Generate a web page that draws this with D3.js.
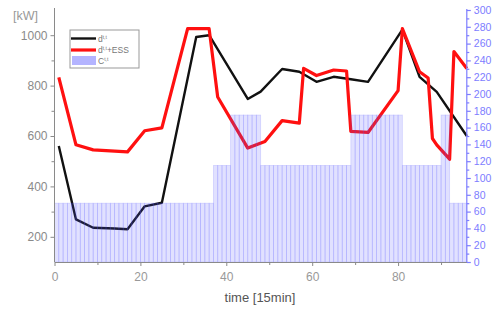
<!DOCTYPE html>
<html>
<head>
<meta charset="utf-8">
<script src="https://cdn.jsdelivr.net/npm/d3@7"></script>
<style>
  body { margin: 0; background: #fff; }
  svg { font-family: "Liberation Sans", Arial, sans-serif; }
</style>
</head>
<body>
<div id="chart"></div>
<script>
// demand without storage (kW)
var loadTime = [1,5,9,14,17,21,25,33,36,45,48,53,57,61,65,69,73,81,85,89,96];
var loadKW   = [560,269,236,233,230,321,335,993,1000,747,776,866,855,815,835,825,815,1022,835,775,600];

// demand with ESS (kW)
var essTime = [1,5,9,17,21,25,31,36,38,45,49,53,57,58,61,65,68,69,73,80,81,85,87,88,89,92,93,96];
var essKW   = [833,565,545,537,621,632,1026,1026,755,552,578,661,651,868,840,862,858,618,614,780,1026,855,830,590,565,508,935,868];

// C per 15 min slot (right axis), slots 0..95
var capacity = [
  70,70,70,70,70,70,70,70,70,70, 70,70,70,70,70,70,70,70,70,70,
  70,70,70,70,70,70,70,70,70,70, 70,70,70,70,70,70,70,115,115,115,
  115,175,175,175,175,175,175,175,115,115, 115,115,115,115,115,115,115,115,115,115,
  115,115,115,115,115,115,115,115,115,175, 175,175,175,175,175,175,175,175,175,175,
  175,115,115,115,115,115,115,115,115,115, 175,175,70,70,70,70
];

var leftTicks = [200,400,600,800,1000];
var bottomTicks = [0,20,40,60,80];

var W = 499, H = 312;
var svg = d3.select("#chart").append("svg").attr("width", W).attr("height", H);

var x = d3.scaleLinear().domain([0, 96]).range([54.5, 466.8]);
var yL = d3.scaleLinear().domain([100, 1100]).range([262, 10]);
var yR = d3.scaleLinear().domain([0, 300]).range([262, 10]);

var grey = "#8a8a8a", blue = "#7d7dff";

// lines
var line = d3.line().x(function(d){ return x(d[0]); }).y(function(d){ return yL(d[1]); });
svg.append("path")
  .datum(loadTime.map(function(t, i){ return [t, loadKW[i]]; }))
  .attr("d", line).attr("fill", "none").attr("stroke", "#111")
  .attr("stroke-width", 2.4).attr("stroke-linejoin", "round");
svg.append("path")
  .datum(essTime.map(function(t, i){ return [t, essKW[i]]; }))
  .attr("d", line).attr("fill", "none").attr("stroke", "#ff1010")
  .attr("stroke-width", 3.2).attr("stroke-linejoin", "round");

// bars on top, semi transparent
svg.append("g").selectAll("rect")
  .data(capacity).enter()
  .append("rect")
  .attr("x", function(d, i){ return x(i); })
  .attr("width", x(1) - x(0))
  .attr("y", function(d){ return yR(d); })
  .attr("height", function(d){ return yR(0) - yR(d); })
  .attr("fill", "#5a5aff").attr("fill-opacity", 0.18)
  .attr("stroke", "#5a5aff").attr("stroke-opacity", 0.2).attr("stroke-width", 0.8);

// left axis
var gl = svg.append("g").attr("transform", "translate(" + x(0) + ",0)");
gl.call(d3.axisLeft(yL).tickValues(leftTicks).tickSize(4).tickSizeOuter(0).tickFormat(d3.format("d")));
gl.append("g").call(d3.axisLeft(yL).tickValues([300,500,700,900]).tickSize(3).tickFormat(""))
  .select(".domain").remove();
gl.selectAll("path, line").attr("stroke", grey);
gl.selectAll("text").attr("fill", grey).attr("font-size", 12).attr("x", -7);
gl.select(".domain").attr("d", "M0," + yL(100) + "V" + 8);

// bottom axis
var gb = svg.append("g").attr("transform", "translate(0," + yL(100) + ")");
gb.call(d3.axisBottom(x).tickValues(bottomTicks).tickSize(4).tickSizeOuter(0));
gb.append("g").call(d3.axisBottom(x).tickValues([10,30,50,70,90]).tickSize(3).tickFormat(""))
  .select(".domain").remove();
gb.selectAll("path, line").attr("stroke", grey);
gb.selectAll("text").attr("fill", "#999").attr("font-size", 12).attr("y", 10);

// right axis
var gr = svg.append("g").attr("transform", "translate(" + x(96) + ",0)");
gr.call(d3.axisRight(yR).tickValues(d3.range(0, 301, 20)).tickSize(4).tickSizeOuter(0));
gr.append("g").call(d3.axisRight(yR).tickValues(d3.range(10, 300, 20)).tickSize(2.5).tickFormat(""))
  .select(".domain").remove();
gr.selectAll("path, line").attr("stroke", blue).attr("stroke-width", 1.2);
gr.selectAll("text").attr("fill", blue).attr("font-size", 10.5).attr("x", 7);
gr.select(".domain").attr("d", "M0," + yR(0) + "V" + 9);

// axis titles
svg.append("text").attr("x", 13).attr("y", 20).attr("fill", "#999")
  .attr("font-size", 12.5).text("[kW]");
svg.append("text").attr("x", 260).attr("y", 302).attr("text-anchor", "middle")
  .attr("fill", "#555").attr("font-size", 13).text("time [15min]");

// legend
var lg = svg.append("g").attr("transform", "translate(70,30)");
lg.append("rect").attr("width", 69).attr("height", 38)
  .attr("fill", "#fff").attr("stroke", "#999").attr("stroke-width", 1);
lg.append("line").attr("x1", 1).attr("x2", 26).attr("y1", 8.5).attr("y2", 8.5)
  .attr("stroke", "#111").attr("stroke-width", 2.4);
lg.append("line").attr("x1", 1).attr("x2", 26).attr("y1", 20).attr("y2", 20)
  .attr("stroke", "#ff1010").attr("stroke-width", 3.2);
lg.append("rect").attr("x", 2).attr("y", 26).attr("width", 24).attr("height", 9)
  .attr("fill", "#b4b4ff");
var rows = [["d", "t,t", ""], ["d", "t,t", "+ESS"], ["C", "t,t", ""]];
rows.forEach(function(r, i){
  var t = lg.append("text").attr("x", 28).attr("y", 11.5 + i * 11)
    .attr("fill", "#777").attr("font-size", 8.5);
  t.append("tspan").text(r[0]);
  t.append("tspan").attr("dy", -3).attr("font-size", 5).text(r[1]);
  t.append("tspan").attr("dy", 3).text(r[2]);
});
</script>
</body>
</html>
